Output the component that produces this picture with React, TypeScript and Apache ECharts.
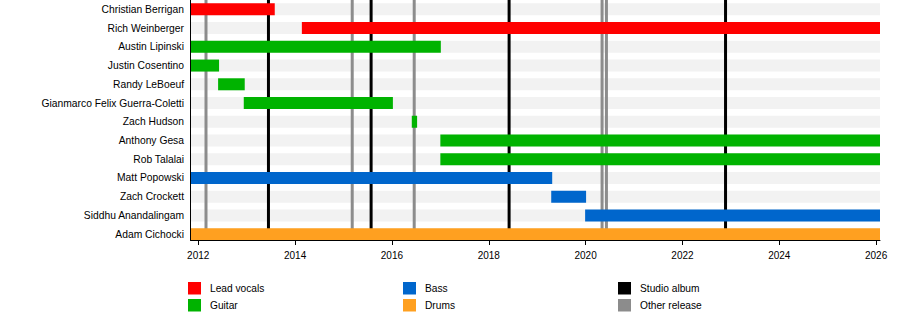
import React, { useEffect, useRef } from "react";
import * as echarts from "echarts";

const members = [
  "Christian Berrigan",
  "Rich Weinberger",
  "Austin Lipinski",
  "Justin Cosentino",
  "Randy LeBoeuf",
  "Gianmarco Felix Guerra-Coletti",
  "Zach Hudson",
  "Anthony Gesa",
  "Rob Talalai",
  "Matt Popowski",
  "Zach Crockett",
  "Siddhu Anandalingam",
  "Adam Cichocki",
];

const START = 2011.84;
const END = 2026.08;

const leadVocals: [number, number, string][] = [
  [START, 2013.58, "Christian Berrigan"],
  [2014.14, END, "Rich Weinberger"],
];
const guitar: [number, number, string][] = [
  [START, 2017.01, "Austin Lipinski"],
  [START, 2012.43, "Justin Cosentino"],
  [2012.41, 2012.96, "Randy LeBoeuf"],
  [2012.94, 2016.02, "Gianmarco Felix Guerra-Coletti"],
  [2016.41, 2016.52, "Zach Hudson"],
  [2017.0, END, "Anthony Gesa"],
  [2017.0, END, "Rob Talalai"],
];
const bass: [number, number, string][] = [
  [START, 2019.31, "Matt Popowski"],
  [2019.29, 2020.01, "Zach Crockett"],
  [2019.99, END, "Siddhu Anandalingam"],
];
const drums: [number, number, string][] = [[START, END, "Adam Cichocki"]];

const studioAlbums = [2013.45, 2015.57, 2018.42, 2022.89];
const otherReleases = [2012.16, 2015.18, 2016.46, 2020.34, 2020.43];

const majorTicks = [2012, 2014, 2016, 2018, 2020, 2022, 2024, 2026];
const minorTicks = [2013, 2015, 2017, 2019, 2021, 2023, 2025];

const FONT = "'Liberation Sans', Arial, Helvetica, sans-serif";
const BAR_H = 12;

const barRender = (color: string) => (params: any, api: any) => {
  const row = api.value(2);
  const s = api.coord([api.value(0), row]);
  const e = api.coord([api.value(1), row]);
  return {
    type: "rect",
    shape: { x: s[0], y: s[1] - BAR_H / 2, width: e[0] - s[0], height: BAR_H },
    style: { fill: color },
  };
};

const lineRender = (color: string) => (params: any, api: any) => {
  const x = api.value(0);
  const top = api.coord([x, 1]);
  const bot = api.coord([x, 0]);
  return {
    type: "line",
    shape: { x1: top[0], y1: top[1], x2: bot[0], y2: bot[1] },
    style: { stroke: color, lineWidth: 3 },
  };
};

const COLORS = {
  lead: "#ff0000",
  guitar: "#00b300",
  bass: "#0066cc",
  drums: "#ffa020",
  studio: "#000000",
  other: "#8c8c8c",
  stripe: "#f2f2f2",
};

export default function App() {
  const ref = useRef<HTMLDivElement>(null);
  useEffect(() => {
    if (!ref.current) return;
    const chart = echarts.init(ref.current, null, { renderer: "svg" });
    const legendCommon = {
      orient: "vertical",
      top: 282,
      icon: "rect",
      itemWidth: 13,
      itemHeight: 12.5,
      itemGap: 4.5,
      padding: 0,
      selectedMode: false,
      textStyle: { fontSize: 10.2, color: "#000", fontFamily: FONT, padding: [3, 0, 0, 4] },
    };
    const barSeries = (name: string, data: any[], color: string) => ({
      type: "custom",
      name,
      xAxisIndex: 0,
      yAxisIndex: 0,
      data,
      dimensions: ["start", "end", "member"],
      encode: { x: [0, 1], y: 2 },
      renderItem: barRender(color),
      itemStyle: { color },
      z: 3,
      silent: true,
    });
    const lineSeries = (name: string, data: number[], color: string) => ({
      type: "custom",
      name,
      xAxisIndex: 1,
      yAxisIndex: 1,
      data: data.map((v) => [v]),
      dimensions: ["year"],
      encode: { x: 0 },
      renderItem: lineRender(color),
      itemStyle: { color },
      z: 2,
      silent: true,
    });
    chart.setOption({
      animation: false,
      textStyle: { fontFamily: FONT },
      grid: [
        { left: 190.5, width: 689.5, top: -3.5, height: 247 },
        { left: 190.5, width: 689.5, top: 0, height: 240 },
      ],
      xAxis: [
        { gridIndex: 0, type: "value", min: START, max: END, show: false },
        {
          gridIndex: 1,
          type: "value",
          min: START,
          max: END,
          axisLine: { show: true, onZero: false, lineStyle: { color: "#000", width: 1 } },
          axisTick: { show: true, customValues: majorTicks, length: 5, lineStyle: { color: "#000" } },
          axisLabel: {
            customValues: majorTicks,
            margin: 10,
            fontSize: 10,
            color: "#000",
            fontFamily: FONT,
            formatter: (v: number) => String(Math.round(v)),
          },
          splitLine: { show: false },
          z: 5,
        },
        {
          gridIndex: 1,
          type: "value",
          min: START,
          max: END,
          axisLine: { show: false },
          axisTick: { show: true, customValues: minorTicks, length: 3, lineStyle: { color: "#000" } },
          axisLabel: { show: false },
          splitLine: { show: false },
        },
      ],
      yAxis: [
        {
          gridIndex: 0,
          type: "category",
          data: members,
          inverse: true,
          axisLine: { show: false },
          axisTick: { show: false },
          splitLine: { show: false },
          axisLabel: { margin: 6.5, fontSize: 10.3, color: "#000", fontFamily: FONT, interval: 0, padding: [1.5, 0, 0, 0] },
        },
        {
          gridIndex: 1,
          type: "value",
          min: 0,
          max: 1,
          axisLine: { show: true, onZero: false, lineStyle: { color: "#000", width: 1 } },
          axisTick: { show: false },
          axisLabel: { show: false },
          splitLine: { show: false },
          z: 5,
        },
      ],
      legend: [
        { ...legendCommon, left: 188, data: ["Lead vocals", "Guitar"] },
        { ...legendCommon, left: 403, data: ["Bass", "Drums"] },
        { ...legendCommon, left: 618, data: ["Studio album", "Other release"] },
      ],
      series: [
        {
          type: "custom",
          name: "rows",
          xAxisIndex: 0,
          yAxisIndex: 0,
          data: members.map((m) => [START, END, m]),
          dimensions: ["start", "end", "member"],
          encode: { x: [0, 1], y: 2 },
          renderItem: barRender(COLORS.stripe),
          z: 1,
          silent: true,
        },
        lineSeries("Other release", otherReleases, COLORS.other),
        lineSeries("Studio album", studioAlbums, COLORS.studio),
        barSeries("Lead vocals", leadVocals, COLORS.lead),
        barSeries("Guitar", guitar, COLORS.guitar),
        barSeries("Bass", bass, COLORS.bass),
        barSeries("Drums", drums, COLORS.drums),
      ],
    });
    return () => chart.dispose();
  }, []);
  return (
    <div
      ref={ref}
      style={{ position: "absolute", left: 0, top: 0, width: 900, height: 320, background: "#fff" }}
    />
  );
}
